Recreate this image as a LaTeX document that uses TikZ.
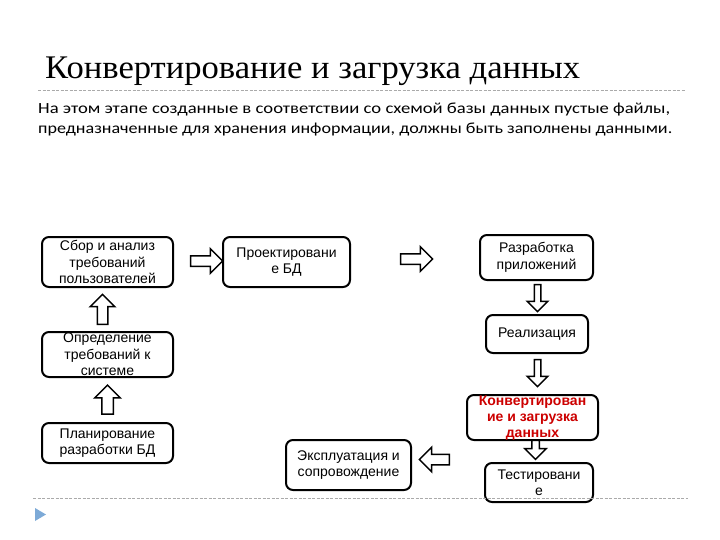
\documentclass[tikz,border=0pt]{standalone}
\usepackage{fontspec}
\setmainfont{Liberation Sans}
\newfontfamily\titlefont{Liberation Serif}
\newfontfamily\bodyfont{Carlito}
\usetikzlibrary{shapes.arrows}
\definecolor{redtxt}{RGB}{204,0,0}
\definecolor{rulegray}{RGB}{170,170,170}
\definecolor{triblue}{RGB}{125,170,215}
\begin{document}
\begin{tikzpicture}[x=1pt,y=-1pt,
  box/.style={draw, line width=2pt, rounded corners=7pt, align=center,
    font=\fontsize{14}{16.5}\selectfont, inner sep=0pt},
  barrow/.style={single arrow, draw, line width=1.5pt, fill=white, inner sep=0pt,
    single arrow head indent=0pt},
  sep/.style={rulegray, dashed, dash pattern=on 3pt off 1.5pt, line width=0.8pt}]
\useasboundingbox (0,0) rectangle (720,540);
% title
\node[anchor=base west, inner sep=0pt] (title) at (45,79)
  {\resizebox{535pt}{\height}{\titlefont\fontsize{33}{36}\selectfont Конвертирование и загрузка данных}};
\draw[sep] (38,90) coordinate (t1) -- (686,90) coordinate (t2);
% body
\node[anchor=base west, inner sep=0pt] (l1) at (38,114)
  {\resizebox{632pt}{\height}{\bodyfont\fontsize{15.5}{18}\selectfont На этом этапе созданные в соответствии со схемой базы данных пустые файлы,}};
\node[anchor=base west, inner sep=0pt] (l2) at (38,134)
  {\resizebox{634pt}{\height}{\bodyfont\fontsize{15.5}{18}\selectfont предназначенные для хранения информации, должны быть заполнены данными.}};
% boxes
\node[box, minimum width=131pt, minimum height=50pt] (b1) at (107.5,262) {Сбор и анализ\\требований\\пользователей};
\node[box, minimum width=127pt, minimum height=50pt] (b2) at (286.5,262) {Проектировани\\е БД};
\node[box, minimum width=131pt, minimum height=45pt] (b3) at (107.5,354.5) {Определение\\требований к\\системе};
\node[box, minimum width=131pt, minimum height=40pt] (b9) at (107.5,443) {Планирование\\разработки БД};
\node[box, minimum width=113pt, minimum height=45pt] (b4) at (536.5,257.5) {Разработка\\приложений};
\node[box, minimum width=102pt, minimum height=38pt] (b5) at (537,334) {Реализация};
\node[box, minimum width=131pt, minimum height=45pt] (b6) at (532.5,417.5) {};
\node[box, minimum width=108pt, minimum height=39pt] (b7) at (539,482.5) {Тестировани\\е};
\node[box, minimum width=125pt, minimum height=50pt] (b8) at (348.5,465) {Эксплуатация и\\сопровождение};
% block arrows
\node[barrow, minimum height=32pt, minimum width=18pt, inner ysep=4.5pt] (a1) at (204,261) {};
\node[barrow, minimum height=32pt, minimum width=18pt, inner ysep=4.5pt] (a2) at (414,259) {};
\node[barrow, rotate=90, minimum height=30pt, minimum width=19pt, inner ysep=4.5pt] (a3) at (102.5,312) {};
\node[barrow, rotate=90, minimum height=29pt, minimum width=20pt, inner ysep=5pt] (a4) at (107.5,402.5) {};
\node[barrow, rotate=-90, minimum height=27pt, minimum width=12pt, inner ysep=2.5pt] (a5) at (537.5,296.5) {};
\node[barrow, rotate=-90, minimum height=27pt, minimum width=12pt, inner ysep=2.5pt] (a6) at (537.5,371.5) {};
\node[barrow, rotate=-90, minimum height=19pt, minimum width=14pt, inner ysep=3pt] (a7) at (535.5,448) {};
\node[barrow, rotate=180, minimum height=30pt, minimum width=17pt, inner ysep=4.5pt] (a8) at (437,459.5) {};
% red label on top
\node[align=center, inner sep=0pt, text=redtxt, font=\bfseries\fontsize{14}{16}\selectfont] (b6t) at (532.5,418) {Конвертирован\\ие и загрузка\\данных};
% bottom rule and bullet
\draw[sep] (33,498) coordinate (r1) -- (688,498) coordinate (r2);
\fill[triblue] (35,508) coordinate (p1) -- (35,521) coordinate (p2) -- (46,514.5) coordinate (p3) -- cycle;
\end{tikzpicture}
\end{document}
